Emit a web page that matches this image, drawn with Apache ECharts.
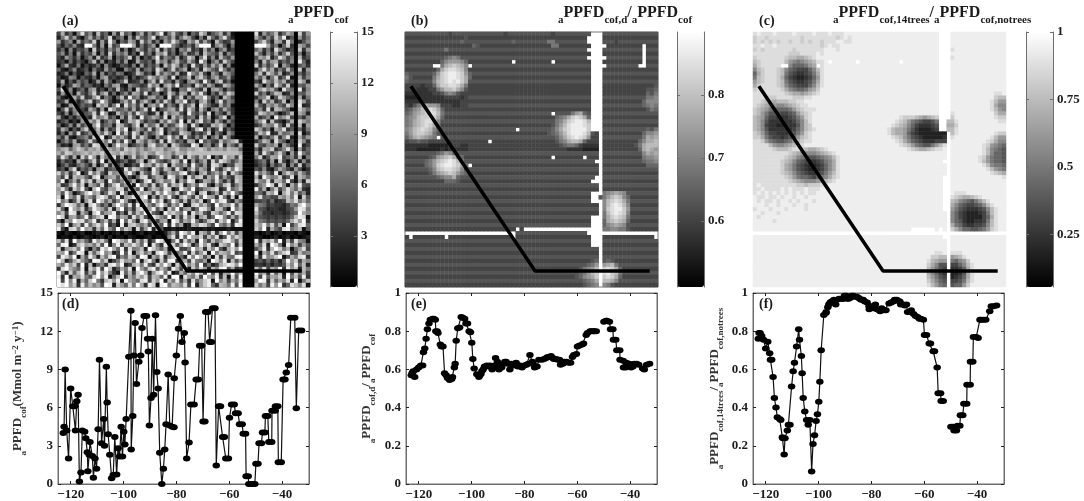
<!DOCTYPE html>
<html>
<head>
<meta charset="utf-8">
<style>
  html, body { margin: 0; padding: 0; background: #fff; }
  #chart { width: 1084px; height: 501px; filter: blur(0.5px); }
</style>
<script src="https://cdn.jsdelivr.net/npm/echarts@6/dist/echarts.min.js"></script>
</head>
<body>
<div id="chart"></div>
<script>
// grey level per cell, hex 0-f from the colourbar minimum to maximum, '.' = no data
const gridA = [
"4a3617d5 82b46193 c5716a38 49e27b53 8164c925 7a381000 00d2957b 36a80c49",
"27c59316 a4836d25 7193b648 d2685a37 b94172c6 38d52000 00a6384c 7e250947",
"93681a47 5c293e71 64a82c59 37196d84 2a7c4951 b6349000 0048c62a 93d70258",
"5264832f f7291c46 fffa2736 91fff852 4639fff2 8a517000 00fffa47 16c30a84",
"36182547 1c362859 2714a638 5c294718 6b352a48 16924000 0069372d 85240c39",
"58271936 4a172c38 69251d47 2a8c3615 93482b76 4a285000 00b6284a 37c50716",
"42963715 82b35a16 47c29153 7e3864a2 5c917d38 2b649000 005a8c26 d9470b35",
"34162531 6b281427 3912a546 2c7938b5 4a62e816 93c74000 0072b59a 36480e62",
"15a32714 23618312 54271936 481b6c93 72d5394a 6b281000 00c3847d 19620573",
"62148235 17329461 1853a267 3d926c47 a1582c96 4d736000 0028d6a3 74b50c29",
"23715216 4a182537 6124b835 1c5974a2 3e86b419 62a85000 007b3c95 a2480637",
"41287153 2618a342 3715246c 96a83d15 6b29c738 a4593000 0095a27c 36d10a48",
"3a152746 1392a514 6c234817 b3d56294 18a73e62 9c361000 0042d86b 7a350c92",
"1724a836 5231749a 2186534c 7a19b6e3 562c84a7 23b95000 00a6173d 84c20659",
"5d381462 8a24163b 4271c568 3e94a217 6d853b19 a7264000 0039c8a5 1d760e38",
"29471a53 7c38b261 583a94d2 6714c83a 92b7d516 3a6c9000 00c4726b a2380659",
"6218a5c3 49d27516 b3e68249 a571d36c 284a9e73 61b84000 00378d15 c9640a27",
"34a17258 c36e9412 7a5d38b6 194c72a8 e3629b51 7d486000 0082c6a3 5b170d94",
"7129a364 51c8a37e 2d694b18 a6e3852c 47b1d963 2a581000 00b5397a 64c80e23",
"15c38642 a7291d95 684a37c2 e1569a4d 3c82b617 94a63000 00683d2b a7510c96",
"42817a35 6c3e912b 75a4d862 3b1c79a5 2e6483d1 75293000 004ca795 136b0a82",
"a3152684 2d78b461 93c62e57 a84d1b69 3672c5a1 48d16000 00a3581e 79c40638",
"24613195 a7c2586e 14b9d736 52a6c84e 1b39d572 a6284000 0069d2b4 315a0c97",
"61382a47 19e4672c a538d1b6 7c2945ae 82d6143b 9c715000 0035a87d 62c40b19",
"3a71528c 46b2935d 8e16a74c 39d2685a 714be392 5d263000 00c9471a 8d350627",
"26194d35 82a6c71e 5b3d9284 6ae1734c a82536c1 74196000 005b8e23 a6790d14",
"73a21568 3c9e14b7 a62d5c83 1947e6a2 d5384b16 92c72000 00a1647c 38d20a59",
"1584a236 c52a7d39 4e61b95a 73c2d846 2a91e574 3b68ac20 0036b92d 75140c83",
"62319a47 3dc5817e 9a24683b d67a1c95 43eb1782 6d2963a0 00c5487a 19630e24",
"8ab69ca7 a9b7ca8a 6cab8a79 bab79ac8 8a9bca7a 9a8baa60 0062a9c3 58d70936",
"a7cb89ab 9bac8ba9 ca9b7ab9 8cb9a7ba 9cbbbbbb bbbbbba0 00a3d748 c6193e75",
"5d83a1c6 e92b74d3 a16c58b2 47e9a36d 2c85b7e1 63d9a4c0 007c25a9 e4683b17",
"26341a52 7c3e1852 46238b19 d7536ca4 e1937a2c 5db847a0 00357291 c416a283",
"14732685 2a16c394 71253e9a 5c8d1b76 a3e6492d c7154ba0 00246173 59183c26",
"3518d264 719a2563 2d6ca741 e84b93d6 17c5a82e 639d7ea0 00538216 a7429513",
"c6a39e14 d7b52c89 3ae71b64 d925a87c e3619b47 a6d2c850 00d7a63e 18c95b74",
"84d2b9a6 3ce179a5 b8416cd3 7a92ec58 1d6bc3a7 e4953ba0 00a2e978 c35d1b96",
"7e16a4d8 c3b92e75 8d6a14ce 39b78d2a 6ec14a95 d7382ca0 00c87d3b a6e4192c",
"b349e7c1 a85d26be 69d1f7a4 c38e5b9d 27a6ec41 95bd37a0 00379fc2 d81a6e54",
"9d72c8e5 1bf64a9d c3a85e27 b96dc14e a7f3589b d24e68b0 00e5a17c 48d96b32",
"a5e8147c f9b36da2 e715c9ba 4d8fa7c3 6e91bd25 a3c8f740 00763b9e 1ad7c582",
"c1f96d3a 85ceb47e 29ad6cf1 93b7e52a d84c6fa9 3e72c1d0 009d5644 a8b7e1c5",
"e7a25c19 d3fb6a48 e9317ca5 f8d26e94 b3a7c15f 8de42960 00445362 34b9d7a6",
"39fdb6a1 ce84729f a6d3e1c8 5bf94a7e 12cd8b63 f7a9e5b0 00a76343 32476cf9",
"d61fa8c3 7eb95c2a f483bd69 e5a1c7f4 9a36ed82 cb51f7a0 00d54233 22459ed7",
"8b4ed2a7 1cf69ae3 72c5b8fd 641eac97 f2d8b53c a69e4dc0 00b63323 32356fa8",
"fc29a57e 48bd1fe6 a93d7c51 eb86f2a4 d7c19b36 fe84a5b0 00954343 4346bed1",
"51a8fcd6 9e37b4a2 f6d82ce7 b49a1fc5 a8e736bd 4c9f27e0 00c76454 546ad9f3",
"c7f29b4e 6ad8f351 e2bc97a4 d85f3e6a 12b9dc74 f86a3ed0 00b9e7c5 a1f48de6",
"e41cd7f9 a3b6e85f 7ca1d49e 2b511211 12111212 11121110 00c8f2a6 4de79b15",
"10210120 01201012 02101201 10026a4f c8e1b95d 3af7c4a0 00101201 20110210",
"01102012 10120201 10210012 01128d3e 6fa9c4b7 d25e8ca0 00210012 01201012",
"b5d2f8a6 3e9c71fd a8e4b6c2 5fd917e3 c6a2f84b 79dea5c0 00e3b9c6 f2a4d871",
"6ef13bd9 a7c5f28e 4b9da6f1 d73e8c5a fb26e9d4 1ca7f3b0 00a6d2fc 71e8b495",
"d29ac7f5 184ebfa6 e3d78b2f c96a1de4 47f9b3c8 e52ad9f0 0058e3bf c7a169d4",
"a9f37ed1 c6bf8a24 f5e19c7a 2dfb4a68 e3c59d1f 7ba8e460 00f1a7d5 9ce34b78",
"4ec8f1a5 e92b7df3 86ca4fe1 a7d39cf6 2e8fb5a1 d4c76ef0 00b3e89c f15a7de3",
"fb25ad96 3fe8c147 d9a6f2be 71c5ef38 a4d7691f c8e2b5a0 00453635 26f9c4a8",
"a7e9c4f2 b1683de9 f24ac7e5 3d9fa1c6 e8b6f372 4aced9f0 00332424 35c8e6b2",
"3dfa86e1 c9e4fb25 a7d1f96c e5b83ea4 f1c7d92b 8ef5a340 00b6d4a8 f3e9c2b7",
"f82c6be4 a5f9d731 e6b4cfa2 9df7e13a 6c8eb4f5 d2a9f7b0 00f8a3d6 b1e5c7a4",
"e3f2a9d7 5cf8e16b f3a7c9d4 ba6e2ff1 d97c4fa8 e3b1d5f0 00d4e6a9 c2f7b5e3",
"f4f8e2a6 cf73bd9e 1fa86de4 c9f2b7e5 a3d69ce1 f8b4a7d0 009fe3c6 a8d2f17b",
"fdf9c3e7 b8a5fe2c 96d7fa3e c1ef7ba8 d4f29ce6 3ba7e5f0 00c7a4e9 f36db8d1"
];
const gridB = [
"55555555 55545555 55555555 54555555 55555455 5555555. ..555555 55555555",
"44444444 44444445 44444444 44444444 44444444 444444.. ..444444 44444444",
"55555555 55555565 55555555 55565555 55557755 555555.. ..555455 55555555",
"44444444 44444444 46544444 44444444 44444774 4444444. ...44444 4444.444",
"55555555 55755555 55555555 55555555 55555555 555555.. ..555555 5555.555",
"44444444 44444444 44444444 44444444 44444444 4444444. ..444444 4444.444",
"55555555 55678755 55555555 55555555 55555555 555555.. ...55555 5555.555",
"44444444 46899986 44444444 444.4444 44444.44 4444444. ..444444 4444.444",
"5555555. .7abcba8 .5555555 55555555 55555555 5555555. ...55555 555..555",
"44444444 6acddcb8 44444444 44444444 44444444 4444444. ..444444 44444444",
"65555556 9cdeedc9 65555555 55555555 55555555 5555555. ..555555 55555555",
"75444447 acdeedca 64444444 44444444 44444444 4444444. ..444444 44444444",
"65555558 bcdedeca 55555555 55555555 55555555 5555555. ..555555 55555555",
"44443446 accddca7 44444444 44444444 44444444 4444444. ..444444 44444445",
"44433344 79bbca85 44444444 44444444 44444444 4444444. ..444444 44444556",
"33333334 45787544 44444444 44444444 44444444 4444444. ..444444 44444657",
"22233333 33444434 55555555 55555555 55555555 5555555. ..555555 55555778",
"33333333 33333344 44444444 44444444 44444444 4444444. ..444444 44446888",
"43579a99 84443344 55555555 55555555 55555555 5555555. ..555555 55556787",
"5689bcdc a6444444 44444444 44444444 44444444 4444444. ..444444 44444576",
"679abcdd b7555555 55555555 55555555 55555.55 5579a65. ..555555 55555555",
"789bccdc a6444444 44444444 44444444 44444467 8acdca6. ..444444 44444444",
"78abcddb 85555555 55555555 55555555 55555578 acdeedb. ..555555 55555555",
"78abcdca 74444444 44444444 44444444 44444579 bdeeedc. ..444444 44444444",
"89bcdcb8 65555555 55555555 5555.555 5555568a cdeeeec. ..555555 55555657",
"79bccba7 54444444 44444444 44444444 44445679 bdeeedb5 4.444444 44446889",
"68aba987 .5555555 55555555 55555555 55555568 acdedc94 4.555555 55557a9a",
"45565544 44444444 44444.44 44444444 44444457 8abba644 4.444444 44468aab",
"33333322 22234433 44444444 44444444 44444445 67764333 3.444444 4457abbb",
"33322222 23233333 44444444 44444444 44444444 43333222 2.444444 4446aba9",
"55555555 67986555 55555555 55555555 55555555 55555555 5.555555 55558a9a",
"44444456 9abca764 44444444 44444444 44444.44 44444.44 4.444444 44447889",
"55555679 bcdedb75 55555555 55555555 55555555 55555555 ..555555 55556778",
"44444679 cdeedca6 .4444444 44444444 44444444 44444444 4.444444 44444666",
"55555568 bcddcb85 55555555 55555555 55555555 55555555 5.555555 55555555",
"44444457 9abcb976 44444444 44444444 44444444 44444444 4.444444 44444444",
"55555555 6788a655 55555555 55555555 55555555 55555555 ..555555 55555555",
"44444444 44666544 44444444 44444444 44444444 4444444. ..444444 44444444",
"55555555 55555555 55555555 55555555 55555555 55555555 5.555555 55555555",
"44444444 44444444 44444444 44444444 44444444 44444444 4.444444 44444444",
"55555555 55555555 55555555 55555555 55555555 5555555. ..789a98 55555555",
"44444444 44444444 44444444 44444444 44444444 4444444. .579bcb8 64444444",
"55555555 55555555 55555555 55555555 55555555 5555555. ..8bcdca 75555555",
"44444444 44444444 44444444 44444444 44444444 44444444 4.8bdedb 84444444",
"55555555 55555555 55555555 55555555 55555555 55555555 5.8cdeec 95555555",
"44444444 44444444 44444444 44444444 44444444 44444444 4.7bdedc 84444444",
"55555555 55555555 55555555 55555555 55555555 5555555. ..7acdcb 75555555",
"44444444 44444444 44444444 44444444 44444444 4444444. ..6abcba 64444444",
"55555555 55555555 55555555 55555555 55555555 5555555. ..689a98 55555555",
"44444444 44444444 44444444 4444.4.. ........ ........ ..778877 54444444",
"........ ........ ........ ....5555 55555555 555555.. ........ ........",
"4.444444 44.44444 44444444 444.4444 44444444 4444444. ..444444 4444444.",
"55555555 55555555 55555555 55555555 55555555 5555555. ..555555 55555555",
"44444444 44444444 44444444 44444444 44444444 4444444. ..444444 44444444",
"55555555 55555555 55555555 55555555 55555555 55555555 5.555555 55555555",
"44444444 44444444 44444444 44444444 44444444 44444444 4.444444 44444444",
"55555555 55555555 55555555 55555555 55555555 55555555 5.555555 55555555",
"44444444 44444444 44444444 44444444 44444444 44444445 6.565444 44444444",
"55555555 55555555 55555555 55555555 55555555 55555567 9.9ab755 55555555",
"44444444 44444444 44444444 44444444 44444444 44445789 b.cdca64 44444444",
"55555555 55555555 55555555 55555555 55555555 5555679b c.decb75 55555555",
"44444444 44444444 44444444 44444444 44444444 4445689a c.cdca64 44444444",
"55555555 55555555 55555555 55555555 55555555 55555678 a.bba855 55555555",
"44444444 44444444 44444444 44444444 44444444 44444567 8.875444 44444444"
];
const gridC = [
"dedddedd ddedddde dddeddde eeeeeeee eeeeeeee eeeeeee. ..eeeeee eeeeeeee",
"cddcdddd ddddcddd dddddcde deeeeeee eeeeeeee eeeeeee. ..eeeeee eeeeeeee",
"cdcdcdcd dcddcdcd dcdddeed deeeeeee eeeeeeee eeeeeee. ..eeeeee eeeeeeee",
"ddeddedd dddddddd dcdeddee eeeeeeee eeeeeeee eeeeeee. ..eeeeee eeeeeeee",
"cdcddddd ddcddddd ddeeedee eeeeeeee eeeeeeee eeeeeee. ..deeeee eeeeeeee",
"dddddddd dcccdddd edeeeeee eeeeeeee eeeeeeee eeeeeee. ..eeeeee eeeeeeee",
"cddddddd cbbaabcd eeeeeeee eeeeeeee eeeeeeee eeeeeee. ..deeeee eeeeeeee",
"bcdddddd b9878 9ab dde.eeee ee.eeeee eeeee.ee eeeeeee. ..eeeeee eeeeeeee",
"acddddd. .866679a .deeeeee eeeeeeee eeeeeeee eeeeeee. ..eeeeee eeeeeeee",
"8bcdddcb 86544468 bdeeeeee eeeeeeee eeeeeeee eeeeeee. ..eeeeee eeeeeeee",
"6acdddcb 75433457 adeeeeee eeeeeeee eeeeeeee eeeeeee. ..eeeeee eeeeeeee",
"7bcdddca 64322346 9deeeeee eeeeeeee eeeeeeee eeeeeee. ..eeeeee eeeeeeee",
"9bcdddcb 75433457 adeeeeee eeeeeeee eeeeeeee eeeeeee. ..eeeeee eeeeeeee",
"acddddcb 86544468 bdeeeeee eeeeeeee eeeeeeee eeeeeee. ..eeeeee eeeeeeee",
"cddddddc a876679a ceeeeeee eeeeeeee eeeeeeee eeeeeee. ..eeeeee eeeeeeee",
"dddddddd cbaa9abc deeeeeee eeeeeeee eeeeeeee eeeeeee. ..eeeeee eeeeedde",
"dddcccdd ddcccdde eeeeeeee eeeeeeee eeeeeeee eeeeeee. ..eeeeee eeeeecbb",
"ddcbbabb bccddeee eeeeeeee eeeeeeee eeeeeeee eeeeeee. ..eeeeee eeeedb99",
"dcba9988 9abcddee eeeeeeee eeeeeeee eeeeeeee eeeeeee. ..eeeeee eeeeda88",
"cba97666 679bcddd eeeeeeee eeeeeeee eeeeeeee eeeeeee. ..eeeeee eeeedb98",
"cb975554 4569bcde eeeeeeee eeeeeeee eeeeeeee eeeeeee. ..deeeee eeeeecaa",
"ba964433 34579cde eeeeeeee eeeeeeee eeeeedcc cba9abc. ..ceeeee eeeeedcc",
"ba853333 33468bde eeeeeeee eeeeeeee eeeedcb9 7654457. .bbdeeee eeeeeedd",
"ba843322 33358bce eeeeeeee eeeeeeee eeedcba8 6433345. .aaceeee eeeeeeee",
"ba853333 33468bcd eeeeeeee eeeeeeee eedbaa97 5322234. .bbdeeee eeeeeeee",
"cb964433 34579cde eeeeeeee eeeeeeee eedbaa96 43222222 2.bdeeee eeeeedcc",
"cca75443 4569bcde eeeeeeee eeeeeeee eeedcb97 54322222 3.deeeee eeeedb99",
"ddc97655 679bcdde eeeeeeee eeeeeeee eeeedca8 65433344 4.eeeeee eeedca88",
"ddddb988 9abddeee eeeeeeee eeeeeeee eeeeedcb 9765579b d.eeeeee eedc9876",
"dddddcbb bcddcbaa bcdeeeee eeeeeeee eeeeeeed cbaabcdd e.eeeeee eedb8765",
"dddddddd dcba9888 9abcdeee eeeeeeee eeeeeeee eeeeeeee e.eeeeee eedb8665",
"dddddddd cba87655 6789bdee eeeeeeee eeeeeeee eeeeeeee e.eeeeee edc97665",
"dddddddc ba865433 4578adee eeeeeeee eeeeeeee eeeeeeee ..eeeeee edb97665",
"dddddddc a9754322 3468adee eeeeeeee eeeeeeee eeeeeeee e.eeeeee eedb8776",
"dddddddc a9754322 3468adee eeeeeeee eeeeeeee eeeeeeee e.eeeeee eeedb987",
"dddddddc ba865433 4579bdee eeeeeeee eeeeeeee eeeeeeee e.eeeeee eeeedcba",
"dddddddd cb976654 678acdee eeeeeeee eeeeeeee eeeeeeee ..eeeeee eeeeeeed",
"dddddddd dcba9888 9abcdeee eeeeeeee eeeeeeee eeeeeeee ..eeeeee eeeeeeee",
"dedddddd dddccbcc cddeeeee eeeeeeee eeeeeeee eeeeeeee ..eeeeee eeeeeeee",
"ddedddde dedddedd deeeeeee eeeeeeee eeeeeeee eeeeeeee ..eeeeee eeeeeeee",
"dededede dedededd eeeeeeee eeeeeeee eeeeeeee eeeeeeee ..edddee eeeeeeee",
"eddedded eedeedee eeeeeeee eeeeeeee eeeeeeee eeeeeeee ..dcbaab cdeeeeee",
"ededdede ededeeed eeeeeeee eeeeeeee eeeeeeee eeeeeeee ..ba8765 79bdeeee",
"eeedeede eedeedee eeeeeeee eeeeeeee eeeeeeee eeeeeeee ..a86544 568bdeee",
"deeedeee deeeedee eeeeeeee eeeeeeee eeeeeeee eeeeeeee ..975433 3458bdee",
"eedeeede eeeeeeee eeeeeeee eeeeeeee eeeeeeee eeeeeeee e.864322 2347bdee",
"edeeeeee eeeeeeee eeeeeeee eeeeeeee eeeeeeee eeeeeeee e.864322 2246adee",
"eeeeedee eeeeeeee eeeeeeee eeeeeeee eeeeeeee eeeeeeee e.865322 3347bdee",
"eeeeeeee eeeeeeee eeeeeeee eeeeeeee eeeeeeee eeeeeeee e.a76433 4458bdee",
"eeeeeeee eeeeeeee eeeeeeee eeeeeeee eeeeeeee ......e. e.ca8665 5679cdee",
"........ ........ ........ ........ ........ ........ ........ ........",
"eeeeeeee eeeeeeee eeeeeeee eeeeeeee eeeeeeee eeeeeeee ..eeeeee eeeeeeee",
"eeeeeeee eeeeeeee eeeeeeee eeeeeeee eeeeeeee eeeeeeee e.eeeeee eeeeeeee",
"eeeeeeee eeeeeeee eeeeeeee eeeeeeee eeeeeeee eeeeeeee e.eeeeee eeeeeeee",
"eeeeeeee eeeeeeee eeeeeeee eeeeeeee eeeeeeee eeeeeeee e.eeeeee eeeeeeee",
"eeeeeeee eeeeeeee eeeeeeee eeeeeeee eeeeeeee eeeeeedd e.dddeee eeeeeeee",
"eeeeeeee eeeeeeee eeeeeeee eeeeeeee eeeeeeee eeeeeccb b.9abdee eeeeeeee",
"eeeeeeee eeeeeeee eeeeeeee eeeeeeee eeeeeeee eeeedba9 9.7689ce eeeeeeee",
"eeeeeeee eeeeeeee eeeeeeee eeeeeeee eeeeeeee eeeeca85 5.4468bd eeeeeeee",
"eeeeeeee eeeeeeee eeeeeeee eeeeeeee eeeeeeee eeeeb975 4.3346ad eeeeeeee",
"eeeeeeee eeeeeeee eeeeeeee eeeeeeee eeeeeeee eeeea864 3.2235ad eeeeeeee",
"eeeeeeee eeeeeeee eeeeeeee eeeeeeee eeeeeeee eeeeb975 4.2346ad eeeeeeee",
"eeeeeeee eeeeeeee eeeeeeee eeeeeeee eeeeeeee eeeeca86 5.4457bd eeeeeeee",
"eeeeeeee eeeeeeee eeeeeeee eeeeeeee eeeeeeee eeeedb97 6.5669ce eeeeeeee"
];

// transect drawn on the maps, in cell units
const pathCol = [1.5, 32.9, 61.9];
const pathRow = [13.6, 60, 60];

// transect profiles
const lon = [-122.8,-122.5,-122.1,-121.5,-120.8,-120,-119.2,-118.5,-118.2,-117.7,-117.2,-116.7,-116.1,-115.6,-114.7,-114.3,-113.7,-113.5,-113,-112.7,-111.8,-111.4,-110.8,-110.2,-109.6,-109.1,-108.3,-107.5,-107.2,-106.5,-106.2,-105.8,-105.2,-104.5,-103.9,-103.3,-102.6,-102.1,-101.5,-100.9,-100.4,-99.9,-99.5,-99,-98,-97.2,-97.1,-96.5,-96.1,-95.6,-95.1,-94.2,-93.5,-93,-92.2,-91.3,-90.9,-90.6,-90.2,-89.6,-89.1,-88.6,-87.9,-87.4,-86.9,-86.3,-85.5,-84.9,-84.4,-83.9,-83.1,-82.5,-81.6,-80.9,-80.8,-80,-79.2,-78.5,-77.9,-77,-76.7,-76.1,-75.2,-74.5,-73.3,-72.5,-71.7,-71.2,-70.4,-69.9,-69.2,-68.9,-68,-67.4,-66.7,-66.3,-65.4,-64.9,-64,-63.3,-62.5,-61.8,-61.3,-60.3,-59.9,-59.1,-58.1,-57.6,-56.6,-56.1,-55.1,-54.7,-53.8,-53.6,-52.8,-52.6,-51.8,-51.1,-50.3,-49.9,-49.1,-48.7,-47.8,-47.4,-46.5,-46.3,-45.4,-45,-43.9,-43.8,-42.6,-42.5,-41.6,-41.4,-40.3,-39.6,-38.9,-38.4,-37.5,-36.7,-35.2,-34.6,-33.7,-32.6];
const ppfdCof = [4,4.5,9,4.2,2,7.5,6.1,6.1,4.2,6.5,7,0.2,0.9,4.2,4.1,3.6,2.5,1,2.3,3.3,2.2,0.5,2,1.2,4.3,9.75,3.2,5.1,3,9.2,6.4,3.9,2.3,0.45,0.7,3.7,0.75,2.8,2.15,4.5,2.15,4.1,3.1,5.1,10,13.6,2.7,5.35,10.1,12.65,7.85,9.6,10.1,12.25,13.2,13.2,11.4,10.4,4.6,6.75,11.4,7,13.25,8.8,7.5,2.45,0,1.2,2.7,4.7,8.6,4.6,4.5,4.45,8.3,10.1,12.2,13.2,11.15,11.85,9.55,2,3.25,6.25,6.25,8.2,8.2,10.85,10.85,4.9,4.9,13.5,13.5,11.15,11.15,13.8,13.8,1.45,6.1,6.1,3.7,3.7,2,2,5.2,6.25,6.25,5.55,5.55,4.7,4.7,3.95,3.95,0.6,0.6,0,0,0,0,1.6,1.6,3.2,3.2,4.05,4.05,5.35,5.35,3.3,3.3,5.75,5.75,6.1,6.1,1.7,1.7,8.2,8.2,8.75,9.35,13.05,13.05,5.95,12.05,12.05];
const diffuseFrac = [0.57,0.58,0.59,0.56,0.6,0.61,0.62,0.62,0.69,0.71,0.76,0.81,0.84,0.86,0.865,0.865,0.86,0.8,0.8,0.79,0.73,0.72,0.72,0.58,0.57,0.555,0.545,0.55,0.56,0.61,0.63,0.75,0.815,0.82,0.875,0.87,0.865,0.84,0.84,0.8,0.795,0.74,0.655,0.605,0.575,0.56,0.565,0.575,0.59,0.6,0.615,0.62,0.615,0.62,0.6,0.62,0.66,0.61,0.64,0.6,0.62,0.61,0.63,0.64,0.64,0.63,0.6,0.63,0.62,0.63,0.635,0.615,0.62,0.61,0.615,0.62,0.625,0.63,0.675,0.64,0.63,0.61,0.615,0.65,0.65,0.655,0.66,0.665,0.665,0.67,0.66,0.655,0.655,0.65,0.65,0.625,0.63,0.64,0.64,0.635,0.635,0.665,0.675,0.68,0.72,0.725,0.73,0.735,0.78,0.79,0.8,0.8,0.8,0.8,0.8,null,null,null,null,0.85,0.855,0.855,0.85,0.81,0.81,0.755,0.755,0.7,0.7,0.65,0.645,0.61,0.61,0.635,0.63,0.61,0.615,0.63,0.63,0.625,0.605,0.6,0.625,0.63];
const treeFrac = [0.76,0.79,0.79,0.775,0.755,0.71,0.745,0.685,0.65,0.65,0.56,0.45,0.4,0.35,0.34,0.335,0.245,0.24,0.155,0.24,0.28,0.31,0.31,0.51,0.59,0.635,0.72,0.81,0.755,0.67,0.58,0.45,0.38,0.335,0.31,0.335,0.065,0.21,0.255,0.33,0.365,0.43,0.535,0.7,0.885,0.895,0.9,0.925,0.94,0.95,0.955,0.965,0.94,0.965,0.97,0.97,0.97,0.97,0.985,0.985,0.97,0.97,0.975,0.985,0.985,0.98,0.98,0.975,0.97,0.965,0.965,0.955,0.95,0.93,0.915,0.93,0.92,0.94,0.915,0.91,0.905,0.92,0.91,0.91,0.945,0.95,0.955,0.965,0.965,0.96,0.955,0.94,0.94,0.935,0.94,0.9,0.9,0.91,0.89,0.88,0.875,0.865,0.865,0.86,0.78,0.78,0.735,0.735,0.695,0.695,0.61,0.475,0.475,0.435,0.435,null,null,null,null,0.3,0.3,0.28,0.28,0.305,0.305,0.36,0.36,0.42,0.42,0.52,0.52,0.64,0.64,0.77,0.77,0.765,0.86,0.86,0.86,0.86,0.905,0.93,0.93,0.935];

// tick labels
const lonTicks = [-120, -100, -80, -60, -40];
const barTicksA = [3, 6, 9, 12, 15];
const barTicksB = [0.6, 0.7, 0.8];
const barTicksC = [0.25, 0.5, 0.75, 1];

const SERIF = '"Liberation Serif", "DejaVu Serif", serif';
const INK = '#1c1c1c';
const AXIS_GREY = '#6e6e6e';

const labelRich = {
  s: { fontFamily: SERIF, fontWeight: 'bold', fontSize: 11, color: INK, verticalAlign: 'bottom' },
  p: { fontFamily: SERIF, fontWeight: 'bold', fontSize: 16, color: INK, verticalAlign: 'bottom', padding: [0, 0, 5, 0] },
  sup: { fontFamily: SERIF, fontWeight: 'bold', fontSize: 10, color: INK, verticalAlign: 'top' }
};
const yNameRich = {
  s: { fontFamily: SERIF, fontWeight: 'bold', fontSize: 9, color: '#333', verticalAlign: 'bottom' },
  p: { fontFamily: SERIF, fontWeight: 'bold', fontSize: 13, color: '#333', verticalAlign: 'bottom', padding: [0, 0, 4, 0] },
  sup: { fontFamily: SERIF, fontWeight: 'bold', fontSize: 9, color: '#333', verticalAlign: 'top' }
};

const tickFont = { fontFamily: SERIF, fontWeight: 'bold', fontSize: 13, color: INK };

const gridRows = 64;
const cellIds = Array.from({ length: gridRows }, (_, i) => String(i));

// turn the typed levels into [col, row, value] cells
const toCells = (rows, min, max) => {
  const cells = [];
  rows.forEach((row, r) => {
    const chars = row.replace(/ /g, '');
    for (let c = 0; c < chars.length; c++) {
      if (chars[c] === '.') continue;
      cells.push([c, r, min + parseInt(chars[c], 16) / 15 * (max - min)]);
    }
  });
  return cells;
};

const option = {
  animation: false,
  backgroundColor: '#fff',
  title: [],
  grid: [],
  xAxis: [],
  yAxis: [],
  visualMap: [],
  series: []
};

const addTitle = (text, left, top, size) => {
  option.title.push({
    text,
    left,
    top,
    padding: 0,
    textStyle: { fontFamily: SERIF, fontWeight: 'bold', fontSize: size || 14, color: INK, rich: labelRich }
  });
};

const addMap = (cfg) => {
  const gridIndex = option.grid.length;
  const xBase = option.xAxis.length;
  const yBase = option.yAxis.length;
  option.grid.push({
    left: cfg.left, top: 32, width: 253, height: 255,
    show: true, borderColor: cfg.frame, borderWidth: 1, backgroundColor: '#fff'
  });
  option.xAxis.push(
    { type: 'category', gridIndex, data: cellIds, show: false },
    { type: 'value', gridIndex, min: 0, max: gridRows, show: false }
  );
  option.yAxis.push(
    { type: 'category', gridIndex, data: cellIds, inverse: true, show: false },
    { type: 'value', gridIndex, min: 0, max: gridRows, inverse: true, show: false }
  );
  const seriesIndex = option.series.length;
  option.series.push({
    type: 'heatmap',
    xAxisIndex: xBase,
    yAxisIndex: yBase,
    data: toCells(cfg.rows, cfg.min, cfg.max),
    progressive: 0,
    silent: true,
    itemStyle: { borderWidth: 0 }
  });
  option.series.push({
    type: 'line',
    xAxisIndex: xBase + 1,
    yAxisIndex: yBase + 1,
    data: pathCol.map((c, i) => [c, pathRow[i]]),
    showSymbol: false,
    silent: true,
    z: 5,
    lineStyle: { color: '#000', width: cfg.pathWidth }
  });

  // colourbar: the visualMap is the ramp, the axes over it give frame, ticks and labels
  option.visualMap.push({
    type: 'continuous',
    seriesIndex,
    min: cfg.min,
    max: cfg.max,
    left: cfg.barLeft,
    top: 32,
    itemWidth: 27,
    itemHeight: 255,
    padding: 0,
    calculable: false,
    hoverLink: false,
    text: null,
    inRange: { color: ['#000000', '#ffffff'] }
  });
  const barGrid = option.grid.length;
  option.grid.push({ left: cfg.barLeft, top: 32, width: 27, height: 255, show: false });
  option.xAxis.push({ type: 'value', gridIndex: barGrid, min: 0, max: 1, show: false });
  const barAxis = (position, withLabels) => ({
    type: 'value',
    gridIndex: barGrid,
    position,
    min: cfg.min,
    max: cfg.max,
    z: 10,
    splitLine: { show: false },
    axisLine: { show: true, onZero: false, lineStyle: { color: AXIS_GREY, width: 1 } },
    axisTick: { show: true, inside: true, length: 3, customValues: cfg.ticks, lineStyle: { color: AXIS_GREY } },
    axisLabel: { show: withLabels, customValues: cfg.ticks, margin: 4, formatter: (v) => String(v), ...tickFont }
  });
  option.yAxis.push(barAxis('right', true), barAxis('left', false));
};

const addProfile = (cfg) => {
  const gridIndex = option.grid.length;
  const xBase = option.xAxis.length;
  const yBase = option.yAxis.length;
  option.grid.push({
    left: cfg.left, top: 293, width: 251, height: 191,
    show: true, borderColor: AXIS_GREY, borderWidth: 1
  });
  const xAxis = (position, withLabels) => ({
    type: 'value',
    gridIndex,
    position,
    min: -124.8,
    max: -29.8,
    splitLine: { show: false },
    axisLine: { show: true, onZero: false, lineStyle: { color: AXIS_GREY } },
    axisTick: { show: true, inside: true, length: 3, customValues: lonTicks, lineStyle: { color: '#222' } },
    axisLabel: { show: withLabels, customValues: lonTicks, margin: 4, formatter: (v) => String(v).replace('-', '\u2212'), ...tickFont }
  });
  const yAxis = (position, withLabels) => ({
    type: 'value',
    gridIndex,
    position,
    min: 0,
    max: cfg.max,
    interval: cfg.step,
    splitLine: { show: false },
    axisLine: { show: true, onZero: false, lineStyle: { color: AXIS_GREY } },
    axisTick: { show: true, inside: true, length: 3, lineStyle: { color: '#222' } },
    axisLabel: { show: withLabels, margin: 5, formatter: (v) => String(v), ...tickFont },
    name: withLabels ? cfg.yName : '',
    nameLocation: 'middle',
    nameGap: cfg.nameGap,
    nameRotate: 90,
    nameTextStyle: { rich: yNameRich }
  });
  option.xAxis.push(xAxis('bottom', true), xAxis('top', false));
  option.yAxis.push(yAxis('left', true), yAxis('right', false));
  option.series.push({
    type: 'line',
    xAxisIndex: xBase,
    yAxisIndex: yBase,
    data: lon.map((x, i) => [x, cfg.values[i]]),
    symbol: 'circle',
    symbolSize: [7.5, 6],
    showAllSymbol: true,
    connectNulls: false,
    silent: true,
    itemStyle: { color: '#000' },
    lineStyle: { color: '#111', width: 1.2 }
  });
};

addMap({ rows: gridA, left: 57, barLeft: 330, min: 0, max: 15, ticks: barTicksA, frame: '#555', pathWidth: 3.5 });
addMap({ rows: gridB, left: 405, barLeft: 677, min: 0.495, max: 0.9, ticks: barTicksB, frame: '#777', pathWidth: 3.5 });
addMap({ rows: gridC, left: 753, barLeft: 1026, min: 0.055, max: 1, ticks: barTicksC, frame: '#fff', pathWidth: 3.5 });

addProfile({
  left: 58, values: ppfdCof, max: 15, step: 3, nameGap: 30,
  yName: '{s|a}{p|PPFD}{s|cof}{p|(Mmol m}{sup|\u22122}{p| y}{sup|\u22121}{p|)}'
});
addProfile({
  left: 406, values: diffuseFrac, max: 1, step: 0.2, nameGap: 29,
  yName: '{s|a}{p|PPFD}{s|cof,d}{p|/}{s|a}{p|PPFD}{s|cof}'
});
addProfile({
  left: 753, values: treeFrac, max: 1, step: 0.2, nameGap: 28,
  yName: '{s|a}{p|PPFD}{s|cof,14trees}{p|/}{s|a}{p|PPFD}{s|cof,notrees}'
});

addTitle('(a)', 62, 14);
addTitle('(b)', 411, 14);
addTitle('(c)', 759, 14);
addTitle('(d)', 62, 297);
addTitle('(e)', 411, 297);
addTitle('(f)', 759, 297);
addTitle('{s|a}{p|PPFD}{s|cof}', 288, 5);
addTitle('{s|a}{p|PPFD}{s|cof,d}{p|/}{s|a}{p|PPFD}{s|cof}', 558, 5);
addTitle('{s|a}{p|PPFD}{s|cof,14trees}{p|/}{s|a}{p|PPFD}{s|cof,notrees}', 833, 5);

const chart = echarts.init(document.getElementById('chart'), null, { renderer: 'canvas' });
chart.setOption(option);
</script>
</body>
</html>
